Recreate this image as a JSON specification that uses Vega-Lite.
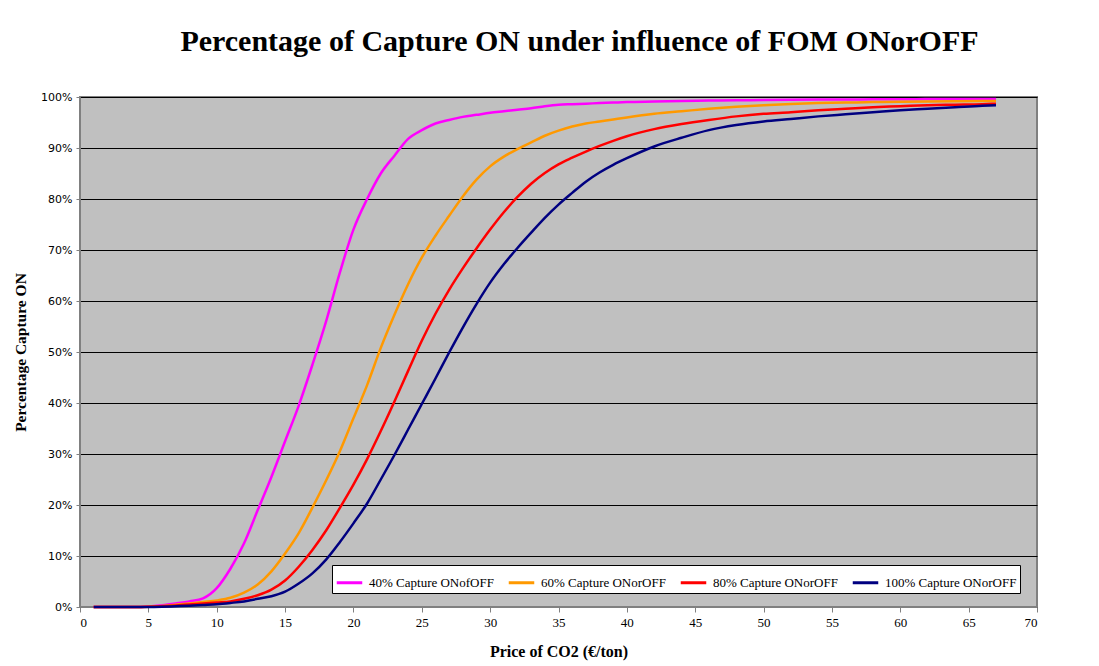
{
"$schema": "https://vega.github.io/schema/vega-lite/v6.json",
"width": 957, "height": 510,
"autosize": {"type": "none"},
"padding": {"left": 80, "top": 97, "right": 62, "bottom": 59},
"background": "white",
"title": {"text": "Percentage of Capture ON under influence of FOM ONorOFF", "font": "Liberation Serif", "fontSize": 30, "fontWeight": "bold", "color": "black", "anchor": "middle", "dx": 21, "offset": 10, "baseline": "alphabetic"},
"config": {"view": {"fill": "#C0C0C0", "stroke": "#808080", "strokeWidth": 2}},
"data": {"values": [
{"s":"40% Capture ONofOFF","x":1,"y":0},{"s":"40% Capture ONofOFF","x":2,"y":0},{"s":"40% Capture ONofOFF","x":3,"y":0},{"s":"40% Capture ONofOFF","x":4,"y":0},{"s":"40% Capture ONofOFF","x":5,"y":0.1},{"s":"40% Capture ONofOFF","x":6,"y":0.35},{"s":"40% Capture ONofOFF","x":7,"y":0.7},{"s":"40% Capture ONofOFF","x":8,"y":1.1},{"s":"40% Capture ONofOFF","x":9,"y":1.7},{"s":"40% Capture ONofOFF","x":10,"y":3.7},{"s":"40% Capture ONofOFF","x":11,"y":7.5},{"s":"40% Capture ONofOFF","x":12,"y":12.5},{"s":"40% Capture ONofOFF","x":13,"y":19},{"s":"40% Capture ONofOFF","x":14,"y":25.5},{"s":"40% Capture ONofOFF","x":15,"y":32.5},{"s":"40% Capture ONofOFF","x":16,"y":39.5},{"s":"40% Capture ONofOFF","x":17,"y":47.5},{"s":"40% Capture ONofOFF","x":18,"y":56},{"s":"40% Capture ONofOFF","x":19,"y":65.5},{"s":"40% Capture ONofOFF","x":20,"y":74},{"s":"40% Capture ONofOFF","x":21,"y":80},{"s":"40% Capture ONofOFF","x":22,"y":85},{"s":"40% Capture ONofOFF","x":23,"y":88.5},{"s":"40% Capture ONofOFF","x":24,"y":91.8},{"s":"40% Capture ONofOFF","x":25,"y":93.5},{"s":"40% Capture ONofOFF","x":26,"y":94.8},{"s":"40% Capture ONofOFF","x":27,"y":95.5},{"s":"40% Capture ONofOFF","x":28,"y":96.1},{"s":"40% Capture ONofOFF","x":29,"y":96.5},{"s":"40% Capture ONofOFF","x":30,"y":96.9},{"s":"40% Capture ONofOFF","x":31,"y":97.2},{"s":"40% Capture ONofOFF","x":32,"y":97.5},{"s":"40% Capture ONofOFF","x":33,"y":97.8},{"s":"40% Capture ONofOFF","x":34,"y":98.2},{"s":"40% Capture ONofOFF","x":35,"y":98.5},{"s":"40% Capture ONofOFF","x":36,"y":98.6},{"s":"40% Capture ONofOFF","x":37,"y":98.7},{"s":"40% Capture ONofOFF","x":38,"y":98.8},{"s":"40% Capture ONofOFF","x":39,"y":98.9},{"s":"40% Capture ONofOFF","x":40,"y":99},{"s":"40% Capture ONofOFF","x":42,"y":99.1},{"s":"40% Capture ONofOFF","x":44,"y":99.2},{"s":"40% Capture ONofOFF","x":46,"y":99.3},{"s":"40% Capture ONofOFF","x":48,"y":99.35},{"s":"40% Capture ONofOFF","x":50,"y":99.4},{"s":"40% Capture ONofOFF","x":52,"y":99.45},{"s":"40% Capture ONofOFF","x":54,"y":99.5},{"s":"40% Capture ONofOFF","x":56,"y":99.5},{"s":"40% Capture ONofOFF","x":58,"y":99.55},{"s":"40% Capture ONofOFF","x":60,"y":99.55},{"s":"40% Capture ONofOFF","x":62,"y":99.6},{"s":"40% Capture ONofOFF","x":64,"y":99.6},{"s":"40% Capture ONofOFF","x":66,"y":99.6},{"s":"40% Capture ONofOFF","x":67,"y":99.6},
{"s":"60% Capture ONorOFF","x":1,"y":0},{"s":"60% Capture ONorOFF","x":2,"y":0},{"s":"60% Capture ONorOFF","x":3,"y":0},{"s":"60% Capture ONorOFF","x":4,"y":0},{"s":"60% Capture ONorOFF","x":5,"y":0.05},{"s":"60% Capture ONorOFF","x":6,"y":0.2},{"s":"60% Capture ONorOFF","x":7,"y":0.45},{"s":"60% Capture ONorOFF","x":8,"y":0.7},{"s":"60% Capture ONorOFF","x":9,"y":1.0},{"s":"60% Capture ONorOFF","x":10,"y":1.3},{"s":"60% Capture ONorOFF","x":11,"y":1.8},{"s":"60% Capture ONorOFF","x":12,"y":2.8},{"s":"60% Capture ONorOFF","x":13,"y":4.4},{"s":"60% Capture ONorOFF","x":14,"y":7},{"s":"60% Capture ONorOFF","x":15,"y":10.5},{"s":"60% Capture ONorOFF","x":16,"y":14.5},{"s":"60% Capture ONorOFF","x":17,"y":19.5},{"s":"60% Capture ONorOFF","x":18,"y":24.8},{"s":"60% Capture ONorOFF","x":19,"y":30.5},{"s":"60% Capture ONorOFF","x":20,"y":37},{"s":"60% Capture ONorOFF","x":21,"y":43.5},{"s":"60% Capture ONorOFF","x":22,"y":50.8},{"s":"60% Capture ONorOFF","x":23,"y":57.3},{"s":"60% Capture ONorOFF","x":24,"y":63.3},{"s":"60% Capture ONorOFF","x":25,"y":68.5},{"s":"60% Capture ONorOFF","x":26,"y":72.8},{"s":"60% Capture ONorOFF","x":27,"y":76.7},{"s":"60% Capture ONorOFF","x":28,"y":80.5},{"s":"60% Capture ONorOFF","x":29,"y":83.8},{"s":"60% Capture ONorOFF","x":30,"y":86.4},{"s":"60% Capture ONorOFF","x":31,"y":88.3},{"s":"60% Capture ONorOFF","x":32,"y":89.8},{"s":"60% Capture ONorOFF","x":33,"y":91.1},{"s":"60% Capture ONorOFF","x":34,"y":92.4},{"s":"60% Capture ONorOFF","x":35,"y":93.4},{"s":"60% Capture ONorOFF","x":36,"y":94.2},{"s":"60% Capture ONorOFF","x":37,"y":94.8},{"s":"60% Capture ONorOFF","x":38,"y":95.2},{"s":"60% Capture ONorOFF","x":39,"y":95.6},{"s":"60% Capture ONorOFF","x":40,"y":96},{"s":"60% Capture ONorOFF","x":42,"y":96.7},{"s":"60% Capture ONorOFF","x":44,"y":97.2},{"s":"60% Capture ONorOFF","x":46,"y":97.7},{"s":"60% Capture ONorOFF","x":48,"y":98.1},{"s":"60% Capture ONorOFF","x":50,"y":98.4},{"s":"60% Capture ONorOFF","x":52,"y":98.65},{"s":"60% Capture ONorOFF","x":54,"y":98.8},{"s":"60% Capture ONorOFF","x":56,"y":98.9},{"s":"60% Capture ONorOFF","x":58,"y":99},{"s":"60% Capture ONorOFF","x":60,"y":99.05},{"s":"60% Capture ONorOFF","x":62,"y":99.1},{"s":"60% Capture ONorOFF","x":64,"y":99.15},{"s":"60% Capture ONorOFF","x":66,"y":99.2},{"s":"60% Capture ONorOFF","x":67,"y":99.2},
{"s":"80% Capture ONorOFF","x":1,"y":0},{"s":"80% Capture ONorOFF","x":2,"y":0},{"s":"80% Capture ONorOFF","x":3,"y":0},{"s":"80% Capture ONorOFF","x":4,"y":0},{"s":"80% Capture ONorOFF","x":5,"y":0.05},{"s":"80% Capture ONorOFF","x":6,"y":0.15},{"s":"80% Capture ONorOFF","x":7,"y":0.3},{"s":"80% Capture ONorOFF","x":8,"y":0.5},{"s":"80% Capture ONorOFF","x":9,"y":0.7},{"s":"80% Capture ONorOFF","x":10,"y":0.9},{"s":"80% Capture ONorOFF","x":11,"y":1.1},{"s":"80% Capture ONorOFF","x":12,"y":1.6},{"s":"80% Capture ONorOFF","x":13,"y":2.3},{"s":"80% Capture ONorOFF","x":14,"y":3.4},{"s":"80% Capture ONorOFF","x":15,"y":5.2},{"s":"80% Capture ONorOFF","x":16,"y":7.9},{"s":"80% Capture ONorOFF","x":17,"y":11.2},{"s":"80% Capture ONorOFF","x":18,"y":15},{"s":"80% Capture ONorOFF","x":19,"y":19.4},{"s":"80% Capture ONorOFF","x":20,"y":24},{"s":"80% Capture ONorOFF","x":21,"y":29},{"s":"80% Capture ONorOFF","x":22,"y":34.5},{"s":"80% Capture ONorOFF","x":23,"y":40.3},{"s":"80% Capture ONorOFF","x":24,"y":46.3},{"s":"80% Capture ONorOFF","x":25,"y":52.2},{"s":"80% Capture ONorOFF","x":26,"y":57.5},{"s":"80% Capture ONorOFF","x":27,"y":62.2},{"s":"80% Capture ONorOFF","x":28,"y":66.4},{"s":"80% Capture ONorOFF","x":29,"y":70.3},{"s":"80% Capture ONorOFF","x":30,"y":74},{"s":"80% Capture ONorOFF","x":31,"y":77.4},{"s":"80% Capture ONorOFF","x":32,"y":80.4},{"s":"80% Capture ONorOFF","x":33,"y":83},{"s":"80% Capture ONorOFF","x":34,"y":85.1},{"s":"80% Capture ONorOFF","x":35,"y":86.8},{"s":"80% Capture ONorOFF","x":36,"y":88.1},{"s":"80% Capture ONorOFF","x":37,"y":89.3},{"s":"80% Capture ONorOFF","x":38,"y":90.4},{"s":"80% Capture ONorOFF","x":39,"y":91.4},{"s":"80% Capture ONorOFF","x":40,"y":92.3},{"s":"80% Capture ONorOFF","x":42,"y":93.7},{"s":"80% Capture ONorOFF","x":44,"y":94.7},{"s":"80% Capture ONorOFF","x":46,"y":95.5},{"s":"80% Capture ONorOFF","x":48,"y":96.2},{"s":"80% Capture ONorOFF","x":50,"y":96.7},{"s":"80% Capture ONorOFF","x":52,"y":97},{"s":"80% Capture ONorOFF","x":54,"y":97.4},{"s":"80% Capture ONorOFF","x":56,"y":97.7},{"s":"80% Capture ONorOFF","x":58,"y":98},{"s":"80% Capture ONorOFF","x":60,"y":98.2},{"s":"80% Capture ONorOFF","x":62,"y":98.4},{"s":"80% Capture ONorOFF","x":64,"y":98.5},{"s":"80% Capture ONorOFF","x":66,"y":98.6},{"s":"80% Capture ONorOFF","x":67,"y":98.7},
{"s":"100% Capture ONorOFF","x":1,"y":0},{"s":"100% Capture ONorOFF","x":2,"y":0},{"s":"100% Capture ONorOFF","x":3,"y":0},{"s":"100% Capture ONorOFF","x":4,"y":0},{"s":"100% Capture ONorOFF","x":5,"y":0},{"s":"100% Capture ONorOFF","x":6,"y":0.05},{"s":"100% Capture ONorOFF","x":7,"y":0.15},{"s":"100% Capture ONorOFF","x":8,"y":0.25},{"s":"100% Capture ONorOFF","x":9,"y":0.4},{"s":"100% Capture ONorOFF","x":10,"y":0.55},{"s":"100% Capture ONorOFF","x":11,"y":0.8},{"s":"100% Capture ONorOFF","x":12,"y":1.1},{"s":"100% Capture ONorOFF","x":13,"y":1.6},{"s":"100% Capture ONorOFF","x":14,"y":2.1},{"s":"100% Capture ONorOFF","x":15,"y":3},{"s":"100% Capture ONorOFF","x":16,"y":4.6},{"s":"100% Capture ONorOFF","x":17,"y":6.6},{"s":"100% Capture ONorOFF","x":18,"y":9.3},{"s":"100% Capture ONorOFF","x":19,"y":12.7},{"s":"100% Capture ONorOFF","x":20,"y":16.4},{"s":"100% Capture ONorOFF","x":21,"y":20.3},{"s":"100% Capture ONorOFF","x":22,"y":25},{"s":"100% Capture ONorOFF","x":23,"y":29.8},{"s":"100% Capture ONorOFF","x":24,"y":34.8},{"s":"100% Capture ONorOFF","x":25,"y":39.8},{"s":"100% Capture ONorOFF","x":26,"y":44.8},{"s":"100% Capture ONorOFF","x":27,"y":49.9},{"s":"100% Capture ONorOFF","x":28,"y":54.8},{"s":"100% Capture ONorOFF","x":29,"y":59.4},{"s":"100% Capture ONorOFF","x":30,"y":63.6},{"s":"100% Capture ONorOFF","x":31,"y":67.2},{"s":"100% Capture ONorOFF","x":32,"y":70.4},{"s":"100% Capture ONorOFF","x":33,"y":73.4},{"s":"100% Capture ONorOFF","x":34,"y":76.3},{"s":"100% Capture ONorOFF","x":35,"y":78.9},{"s":"100% Capture ONorOFF","x":36,"y":81.2},{"s":"100% Capture ONorOFF","x":37,"y":83.4},{"s":"100% Capture ONorOFF","x":38,"y":85.2},{"s":"100% Capture ONorOFF","x":39,"y":86.7},{"s":"100% Capture ONorOFF","x":40,"y":88},{"s":"100% Capture ONorOFF","x":42,"y":90.3},{"s":"100% Capture ONorOFF","x":44,"y":92},{"s":"100% Capture ONorOFF","x":46,"y":93.5},{"s":"100% Capture ONorOFF","x":48,"y":94.5},{"s":"100% Capture ONorOFF","x":50,"y":95.2},{"s":"100% Capture ONorOFF","x":52,"y":95.7},{"s":"100% Capture ONorOFF","x":54,"y":96.2},{"s":"100% Capture ONorOFF","x":56,"y":96.6},{"s":"100% Capture ONorOFF","x":58,"y":97},{"s":"100% Capture ONorOFF","x":60,"y":97.4},{"s":"100% Capture ONorOFF","x":62,"y":97.7},{"s":"100% Capture ONorOFF","x":64,"y":98},{"s":"100% Capture ONorOFF","x":66,"y":98.3},{"s":"100% Capture ONorOFF","x":67,"y":98.4}
]},
"mark": {"type": "line", "strokeWidth": 2.5, "interpolate": "monotone"},
"encoding": {
"x": {"field": "x", "type": "quantitative", "scale": {"domain": [0, 70], "nice": false},
 "axis": {"values": [0,5,10,15,20,25,30,35,40,45,50,55,60,65,70], "title": "Price of CO2 (€/ton)", "grid": false, "domainColor": "#808080", "domainWidth": 1, "tickColor": "#808080", "tickSize": 5, "labelFont": "Liberation Serif", "labelFontSize": 13, "labelColor": "black", "labelPadding": 4, "titleFont": "Liberation Serif", "titleFontSize": 16, "titleFontWeight": "bold", "titleColor": "black", "titlePadding": 14}},
"y": {"field": "y", "type": "quantitative", "scale": {"domain": [0, 100], "nice": false},
 "axis": {"values": [0,10,20,30,40,50,60,70,80,90,100], "labelExpr": "datum.value + '%'", "title": "Percentage Capture ON", "grid": true, "gridColor": "black", "gridWidth": 1, "gridOpacity": 1, "domainColor": "#808080", "tickColor": "#808080", "tickSize": 4, "labelFont": "DejaVu Sans", "labelFontSize": 11, "labelColor": "black", "labelPadding": 4, "titleFont": "Liberation Serif", "titleFontSize": 15.5, "titleFontWeight": "bold", "titleColor": "black", "titlePadding": 12}},
"color": {"field": "s", "type": "nominal",
 "scale": {"domain": ["40% Capture ONofOFF", "60% Capture ONorOFF", "80% Capture ONorOFF", "100% Capture ONorOFF"], "range": ["#FF00FF", "#FF9900", "#FF0000", "#000080"]},
 "legend": {"orient": "none", "legendX": 252, "legendY": 468, "direction": "horizontal", "title": null, "fillColor": "white", "strokeColor": "black", "padding": 3, "symbolType": "stroke", "symbolStrokeWidth": 3, "symbolSize": 650, "labelFont": "Liberation Serif", "labelFontSize": 13, "labelColor": "black", "labelOffset": 5, "columnPadding": 8, "labelLimit": 300}}
}
}
